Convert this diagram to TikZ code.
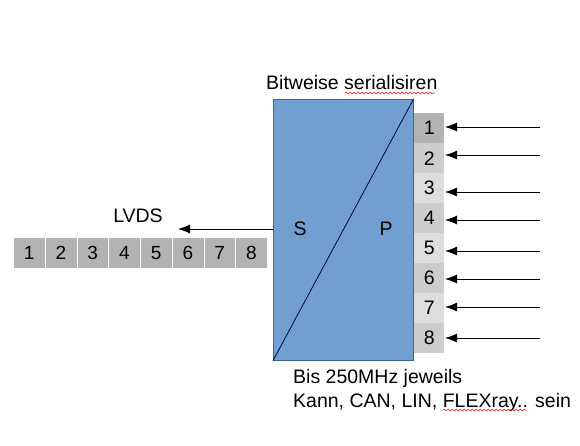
\documentclass[tikz,border=0pt]{standalone}
\usepackage{fontspec}
\setmainfont{Liberation Sans}
\usetikzlibrary{arrows.meta,decorations.pathmorphing}
\definecolor{blk}{HTML}{729FCF}
\definecolor{blkb}{HTML}{3465A4}
\definecolor{gA}{HTML}{B3B3B3}
\definecolor{gB}{HTML}{CCCCCC}
\definecolor{gC}{HTML}{DDDDDD}
\definecolor{gL}{HTML}{B2B2B2}
\tikzset{
  numbox/.style={minimum width=30pt, minimum height=30pt, inner sep=0pt, font=\fontsize{19.5}{19.5}\selectfont},
  rowbox/.style={fill=gL, draw=white, line width=0.8pt, minimum width=31.75pt, minimum height=31pt, inner sep=0pt, font=\fontsize{19}{19}\selectfont},
  inarrow/.style={-{Latex[length=12pt,width=9pt]}, line width=0.9pt},
  lbl/.style={font=\fontsize{19.5}{24}\selectfont, inner sep=0pt},
  spell/.style={red, line width=0.5pt, decorate, decoration={snake, amplitude=0.9pt, segment length=4pt}}
}
\begin{document}
\begin{tikzpicture}[x=1pt,y=-1pt]
\useasboundingbox (0,0) rectangle (580,446);
% main block
\node[fill=blk, draw=blkb, line width=0.6pt, minimum width=140pt, minimum height=261pt, inner sep=0pt, anchor=north west] (blk) at (273,99) {};
\draw[color=blue!30!black, line width=0.8pt] (blk.south west) -- (blk.north east);
\node[lbl] (S) at (300,229) {S};
\node[lbl] (P) at (386,229) {P};
\node[lbl, anchor=west] (title) at (266,83) {Bitweise serialisiren};
\draw[spell] (345,93) -- (435,93);
% right column
\foreach \i/\c/\ay in {1/gA/127,2/gB/155,3/gC/192,4/gB/220,5/gC/251,6/gB/279,7/gC/307,8/gB/338}{
  \node[numbox, fill=\c, anchor=north west] (r\i) at (414,{113+30*(\i-1)}) {\i};
  \coordinate (s\i) at (540,\ay);
  \draw[inarrow] (s\i) -- (445,\ay);
}
% left row
\foreach \i in {1,...,8}{
  \node[rowbox, anchor=north west] (l\i) at ({13+31.75*(\i-1)},237) {\i};
}
\node[lbl] (lvds) at (138,216) {LVDS};
\coordinate (lt) at (178,229);
\draw[inarrow] (273,229) -- (lt);
% bottom text
\node[lbl, anchor=north west, align=left] (note) at (293,369) {Bis 250MHz jeweils\\Kann, CAN, LIN, FLEXray.. sein};
\draw[spell] (443,410) -- (527,410);
\end{tikzpicture}
\end{document}
